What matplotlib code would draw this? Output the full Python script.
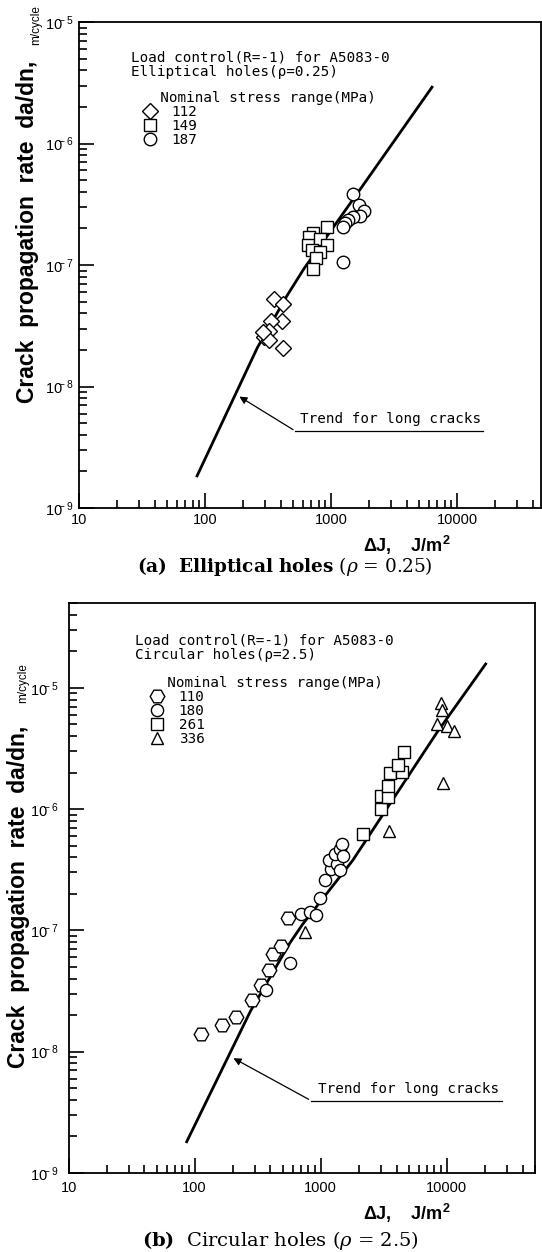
import matplotlib.pyplot as plt
from matplotlib.ticker import LogLocator, NullFormatter, FixedLocator, FixedFormatter

plt.rcParams['font.family'] = ['Liberation Sans', 'DejaVu Sans']
plt.rcParams['mathtext.fontset'] = 'custom'
plt.rcParams['mathtext.rm'] = 'DejaVu Serif'
plt.rcParams['mathtext.it'] = 'DejaVu Serif:italic'
plt.rcParams['mathtext.bf'] = 'DejaVu Serif:bold'
plt.rcParams['mathtext.default'] = 'regular'

# (a) elliptical holes, rho = 0.25
ell_112_dj = [355, 419, 406, 332, 324, 296, 324, 419, 290]
ell_112_rate = [5.26e-8, 4.78e-8, 3.48e-8, 3.44e-8, 2.88e-8, 2.54e-8, 2.41e-8, 2.07e-8, 2.79e-8]
ell_149_dj = [924, 724, 673, 661, 818, 924, 703, 818, 760, 724]
ell_149_rate = [2.05e-7, 1.83e-7, 1.69e-7, 1.45e-7, 1.64e-7, 1.45e-7, 1.32e-7, 1.28e-7, 1.15e-7, 9.3e-8]
ell_187_dj = [1486, 1678, 1828, 1699, 1486, 1371, 1291, 1239, 1239]
ell_187_rate = [3.87e-7, 3.13e-7, 2.78e-7, 2.51e-7, 2.48e-7, 2.36e-7, 2.21e-7, 2.05e-7, 1.05e-7]
ell_trend_dj = [86.5, 261, 448, 611, 1795, 6340]
ell_trend_rate = [1.84e-9, 2.1e-8, 5.6e-8, 9.35e-8, 4.53e-7, 2.91e-6]

# (b) circular holes, rho = 2.5
cir_110_dj = [112, 164, 213, 284, 335, 388, 422, 485, 555]
cir_110_rate = [1.39e-8, 1.65e-8, 1.93e-8, 2.69e-8, 3.57e-8, 4.75e-8, 6.43e-8, 7.43e-8, 1.27e-7]
cir_180_dj = [367, 571, 699, 823, 919, 988, 1084, 1203, 1172, 1358, 1303, 1427, 1470, 1514, 1427]
cir_180_rate = [3.2e-8, 5.38e-8, 1.36e-7, 1.42e-7, 1.33e-7, 1.86e-7, 2.58e-7, 3.22e-7,
                3.77e-7, 3.54e-7, 4.28e-7, 4.7e-7, 5.17e-7, 4.14e-7, 3.12e-7]
cir_261_dj = [2168, 3013, 3013, 3451, 3451, 3556, 4406, 4090, 4613]
cir_261_rate = [6.25e-7, 1.0e-6, 1.29e-6, 1.25e-6, 1.56e-6, 1.97e-6, 2.01e-6, 2.32e-6, 2.94e-6]
cir_336_dj = [752, 3484, 9380, 9040, 9140, 8430, 10020, 11460]
cir_336_rate = [9.7e-8, 6.65e-7, 1.63e-6, 7.43e-6, 6.55e-6, 5.02e-6, 4.86e-6, 4.37e-6]
cir_trend_dj = [86.5, 278, 569, 718, 1795, 8380, 20400]
cir_trend_rate = [1.81e-9, 2.17e-8, 7.85e-8, 1.12e-7, 3.77e-7, 4.28e-6, 1.57e-5]

x_ticks = [10, 100, 1000, 10000]
x_labels = ['10', '100', '1000', '10000']
y_ticks = [1e-9, 1e-8, 1e-7, 1e-6, 1e-5]
y_labels = [r'$10^{\!\!\!-9}$', r'$10^{\!\!\!-8}$', r'$10^{\!\!\!-7}$',
            r'$10^{\!\!\!-6}$', r'$10^{\!\!\!-5}$']

mono = {'family': 'DejaVu Sans Mono', 'size': 10.3}
mk = dict(linestyle='none', markerfacecolor='white', markeredgecolor='black',
          markeredgewidth=1.0, zorder=3)


def style_axes(ax, xmax, ymax, xpad, ypad):
    ax.set_xscale('log')
    ax.set_yscale('log')
    ax.set_xlim(10, xmax)
    ax.set_ylim(1e-9, ymax)
    ax.xaxis.set_major_locator(FixedLocator(x_ticks))
    ax.xaxis.set_major_formatter(FixedFormatter(x_labels))
    ax.xaxis.set_minor_locator(LogLocator(base=10, subs=range(2, 10), numticks=20))
    ax.xaxis.set_minor_formatter(NullFormatter())
    ax.yaxis.set_major_locator(FixedLocator(y_ticks))
    ax.yaxis.set_major_formatter(FixedFormatter(y_labels))
    ax.yaxis.set_minor_locator(LogLocator(base=10, subs=range(2, 10), numticks=20))
    ax.yaxis.set_minor_formatter(NullFormatter())
    ax.tick_params(which='both', direction='in', top=False, right=False, width=1.2)
    ax.tick_params(which='major', length=11)
    ax.tick_params(which='minor', length=6)
    ax.tick_params(axis='x', labelsize=10.5, pad=xpad)
    ax.tick_params(axis='y', labelsize=10.5, pad=ypad)
    for s in ax.spines.values():
        s.set_linewidth(1.3)


def trend_note(ax, tip, start, end, text_pos):
    ax.annotate('', xy=tip, xytext=start,
                arrowprops=dict(arrowstyle='-|>', lw=0.9, color='black', mutation_scale=11))
    ax.plot([start[0], end[0]], [start[1], end[1]], color='black', lw=0.9)
    ax.text(text_pos[0], text_pos[1], 'Trend for long cracks', fontdict=mono,
            ha='center', va='center')


fig = plt.figure(figsize=(5.42, 12.52), dpi=100)

# ---- (a) elliptical holes ----
ax1 = fig.add_axes([0.1458, 0.5942, 0.8524, 0.3882])
ax1.plot(ell_trend_dj, ell_trend_rate, color='black', lw=2.0, zorder=2)
h112, = ax1.plot(ell_112_dj, ell_112_rate, marker='D', markersize=8.5, **mk)
h149, = ax1.plot(ell_149_dj, ell_149_rate, marker='s', markersize=8.0, **mk)
h187, = ax1.plot(ell_187_dj, ell_187_rate, marker='o', markersize=9.0, **mk)
style_axes(ax1, 4.65e4, 1e-5, 3.6, 4.0)

ax1.text(0.112, 0.942, 'Load control(R=-1) for A5083-0\nElliptical holes(ρ=0.25)',
         transform=ax1.transAxes, fontdict=mono, va='top', ha='left', linespacing=1.1)
ax1.legend([h112, h149, h187], ['112', '149', '187'],
           title='  Nominal stress range(MPa)', loc='upper left',
           bbox_to_anchor=(0.1385, 0.858), frameon=False, prop=mono,
           title_fontproperties=mono, handlelength=1.0, handletextpad=1.0,
           labelspacing=0.0, borderpad=0, borderaxespad=0, numpoints=1,
           alignment='left')
trend_note(ax1, (179.5, 8.5e-9), (522, 4.3e-9), (16100, 4.3e-9), (2990, 5.4e-9))

fig.text(0.0507, 1 - 403 / 1252, 'Crack  propagation  rate  da/dn,', rotation=90,
         ha='center', va='bottom', fontsize=16.5, fontweight='bold')
fig.text(0.066, 1 - 5 / 1252, 'm/cycle', rotation=90, ha='center', va='top', fontsize=8.5)
fig.text(363 / 542, 1 - 545 / 1252, 'ΔJ,    J/m$^2$', ha='left', va='center',
         fontsize=13, fontweight='bold')
fig.text(285 / 542, 1 - 567 / 1252, r'$\mathbf{(a)\ \ Elliptical\ holes}$ ($\mathit{\rho}$ = 0.25)',
         ha='center', va='center', fontsize=13.3, family='DejaVu Serif')

# ---- (b) circular holes ----
ax2 = fig.add_axes([0.1266, 0.0631, 0.8600, 0.4553])
ax2.plot(cir_trend_dj, cir_trend_rate, color='black', lw=2.0, zorder=2)
h110, = ax2.plot(cir_110_dj, cir_110_rate, marker='H', markersize=10.5, **mk)
h180, = ax2.plot(cir_180_dj, cir_180_rate, marker='o', markersize=8.8, **mk)
h261, = ax2.plot(cir_261_dj, cir_261_rate, marker='s', markersize=8.0, **mk)
h336, = ax2.plot(cir_336_dj, cir_336_rate, marker='^', markersize=9.0, **mk)
style_axes(ax2, 5e4, 5e-5, 5.8, 7.0)

ax2.text(0.1425, 0.947, 'Load control(R=-1) for A5083-0\nCircular holes(ρ=2.5)',
         transform=ax2.transAxes, fontdict=mono, va='top', ha='left', linespacing=1.1)
ax2.legend([h110, h180, h261, h336], ['110', '180', '261', '336'],
           title='  Nominal stress range(MPa)', loc='upper left',
           bbox_to_anchor=(0.1747, 0.872), frameon=False, prop=mono,
           title_fontproperties=mono, handlelength=1.0, handletextpad=1.0,
           labelspacing=0.0, borderpad=0, borderaxespad=0, numpoints=1,
           alignment='left')
trend_note(ax2, (194.5, 9.06e-9), (839, 3.95e-9), (27500, 3.95e-9), (5000, 4.9e-9))

fig.text(0.035, 1 - 1068 / 1252, 'Crack  propagation  rate  da/dn,', rotation=90,
         ha='center', va='bottom', fontsize=16.5, fontweight='bold')
fig.text(0.043, 1 - 663 / 1252, 'm/cycle', rotation=90, ha='center', va='top', fontsize=8.5)
fig.text(363 / 542, 1 - 1213 / 1252, 'ΔJ,    J/m$^2$', ha='left', va='center',
         fontsize=13, fontweight='bold')
fig.text(280 / 542, 1 - 1240 / 1252, r'$\mathbf{(b)}$  Circular holes ($\mathit{\rho}$ = 2.5)',
         ha='center', va='center', fontsize=14, family='DejaVu Serif')

fig.savefig('out.png', dpi=100)
